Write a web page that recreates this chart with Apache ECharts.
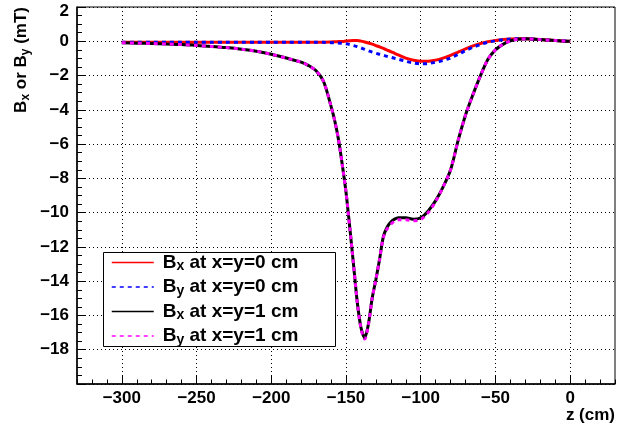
<!DOCTYPE html>
<html>
<head>
<meta charset="utf-8">
<script src="https://cdn.jsdelivr.net/npm/echarts@6/dist/echarts.min.js"></script>
<style>
  html, body { margin: 0; padding: 0; background: #fff; }
  #chart { width: 618px; height: 430px; }
</style>
</head>
<body>
<div id="chart"></div>
<script>
// ---- data ----
const zValues = [-300,-290,-280,-270,-260,-250,-240,-230,-220,-210,-200,-190,-180,-175,-170,-165,-160,
  -157.5,-155,-152.5,-150,-147.5,-145,-142.5,-140,-137.5,-135,-132.5,-130,-127.5,-125,-122.5,-120,-117.5,
  -115,-110,-105,-100,-95,-90,-85,-80,-75,-70,-65,-60,-55,-50,-45,-40,-35,-30,-25,-20,-15,-10,-5,0];

const bxAt0 = [-0.05,-0.05,-0.05,-0.05,-0.05,-0.05,-0.05,-0.05,-0.05,-0.05,-0.05,-0.05,-0.05,-0.05,-0.05,-0.05,-0.04,
  -0.03,-0.02,-0.01,0.01,0.03,0.04,0.04,0.01,-0.04,-0.10,-0.17,-0.25,-0.33,-0.42,-0.51,-0.60,-0.70,
  -0.80,-0.98,-1.10,-1.17,-1.16,-1.10,-0.98,-0.82,-0.63,-0.44,-0.27,-0.13,-0.02,0.05,0.10,0.13,0.14,0.14,0.12,0.10,0.07,0.05,0.02,0.0];

const byAt0 = [-0.05,-0.05,-0.05,-0.05,-0.05,-0.05,-0.05,-0.05,-0.05,-0.05,-0.05,-0.05,-0.05,-0.05,-0.05,-0.06,-0.08,
  -0.09,-0.10,-0.12,-0.15,-0.19,-0.25,-0.31,-0.39,-0.47,-0.55,-0.63,-0.70,-0.76,-0.82,-0.88,-0.93,-0.99,
  -1.05,-1.17,-1.27,-1.32,-1.30,-1.22,-1.12,-0.97,-0.77,-0.55,-0.35,-0.19,-0.06,0.03,0.09,0.13,0.15,0.15,0.13,0.10,0.07,0.05,0.02,0.0];

const bxAt1 = [-0.08,-0.11,-0.13,-0.16,-0.19,-0.24,-0.30,-0.37,-0.46,-0.58,-0.76,-0.98,-1.22,-1.42,-1.72,-2.35,-3.80,
  -4.65,-5.75,-7.20,-8.80,-10.85,-13.00,-15.20,-16.70,-17.30,-16.50,-15.00,-13.90,-12.70,-11.40,-10.85,-10.55,-10.38,
  -10.30,-10.30,-10.38,-10.30,-9.90,-9.30,-8.50,-7.50,-5.80,-4.30,-3.10,-2.00,-1.05,-0.50,-0.18,0.02,0.12,0.14,0.13,0.10,0.07,0.05,0.02,0.0];

const byAt1 = [-0.08,-0.11,-0.13,-0.16,-0.19,-0.24,-0.30,-0.37,-0.46,-0.58,-0.76,-0.98,-1.22,-1.42,-1.72,-2.35,-3.80,
  -4.65,-5.75,-7.20,-8.80,-10.85,-13.00,-15.20,-16.75,-17.38,-16.55,-15.00,-13.90,-12.70,-11.45,-10.95,-10.68,-10.50,
  -10.42,-10.42,-10.48,-10.40,-10.00,-9.35,-8.50,-7.50,-5.80,-4.30,-3.10,-2.00,-1.05,-0.50,-0.18,0.02,0.12,0.14,0.13,0.10,0.07,0.05,0.02,0.0];

const xTickValues = [-300,-250,-200,-150,-100,-50,0];
const seriesNames = ['Bx at x=y=0 cm','By at x=y=0 cm','Bx at x=y=1 cm','By at x=y=1 cm'];
const legendRich = {
  'Bx at x=y=0 cm': '{b0|B}{s|x}{b| at x=y=0 cm}',
  'By at x=y=0 cm': '{b0|B}{s|y}{b| at x=y=0 cm}',
  'Bx at x=y=1 cm': '{b0|B}{s|x}{b| at x=y=1 cm}',
  'By at x=y=1 cm': '{b0|B}{s|y}{b| at x=y=1 cm}'
};

// ---- chart ----
const FONT = '"Liberation Sans", Arial, Helvetica, sans-serif';
const minusFmt = v => (v < 0 ? '\u2212' + Math.abs(v) : String(v));
const pairs = arr => zValues.map((z, i) => [z, arr[i]]);
const dotted = { color: '#000', width: 1, type: [1, 3] };
const labelFont = { color: '#000', fontFamily: FONT, fontWeight: 'bold', fontSize: 17 };

const chart = echarts.init(document.getElementById('chart'), null, { renderer: 'canvas' });
chart.setOption({
  animation: false,
  backgroundColor: '#fff',
  grid: { left: 77, right: 3, top: 7, bottom: 46, show: true, borderColor: '#000', borderWidth: 1, backgroundColor: 'transparent' },
  xAxis: [
    {
      type: 'value', min: -330, max: 30, interval: 10,
      axisLine: { show: true, onZero: false, lineStyle: { color: '#000', width: 1.5 } },
      axisTick: { show: true, inside: true, length: 4.5, lineStyle: { color: '#000' } },
      axisLabel: { show: false },
      splitLine: { show: false }
    },
    {
      type: 'value', min: -330, max: 30, position: 'bottom',
      axisLine: { show: false, onZero: false },
      axisTick: { show: true, inside: true, length: 9, customValues: xTickValues, lineStyle: { color: '#000' } },
      axisLabel: Object.assign({ show: true, customValues: xTickValues, formatter: minusFmt, margin: 6 }, labelFont),
      splitLine: { show: true, lineStyle: dotted }
    }
  ],
  yAxis: {
    type: 'value', min: -20, max: 2, interval: 2,
    axisLine: { show: true, onZero: false, lineStyle: { color: '#000', width: 1.5 } },
    axisTick: { show: true, inside: true, length: 9, lineStyle: { color: '#000' } },
    minorTick: { show: true, splitNumber: 4, length: 5, lineStyle: { color: '#000' } },
    axisLabel: Object.assign({
      formatter: v => (v === 2 ? '{t|2}' : minusFmt(v)),
      showMinLabel: false, margin: 8,
      rich: { t: Object.assign({ padding: [9, 0, 0, 0] }, labelFont) }
    }, labelFont),
    splitLine: { show: true, lineStyle: dotted }
  },
  legend: {
    orient: 'vertical', left: 111, top: 253, padding: 0,
    itemWidth: 42, itemHeight: 20, itemGap: 4,
    data: seriesNames,
    formatter: name => legendRich[name],
    lineStyle: { width: 1.5 },
    itemStyle: { opacity: 0 },
    textStyle: {
      color: '#000',
      rich: {
        b0: { fontFamily: FONT, fontWeight: 'bold', fontSize: 19, lineHeight: 20, color: '#000', padding: [0, 0, 0, 4] },
        b: { fontFamily: FONT, fontWeight: 'bold', fontSize: 19, lineHeight: 20, color: '#000' },
        s: { fontFamily: FONT, fontWeight: 'bold', fontSize: 14, lineHeight: 22, color: '#000', verticalAlign: 'bottom' }
      }
    },
    z: 10
  },
  graphic: [
    { type: 'rect', z: 5, shape: { x: 103.5, y: 252.5, width: 232, height: 94 },
      style: { fill: '#fff', stroke: '#000', lineWidth: 1 } },
    { type: 'text', z: 10, x: 21, y: 7, rotation: Math.PI / 2,
      style: {
        text: '{b|B}{s|x}{b| or }{b|B}{s|y}{b| (mT)}',
        align: 'right', verticalAlign: 'middle',
        rich: {
          b: { fontFamily: FONT, fontWeight: 'bold', fontSize: 17, lineHeight: 20, fill: '#000' },
          s: { fontFamily: FONT, fontWeight: 'bold', fontSize: 12, lineHeight: 22, fill: '#000', verticalAlign: 'bottom' }
        }
      } },
    { type: 'text', z: 10, x: 615, y: 415,
      style: { text: 'z (cm)', align: 'right', verticalAlign: 'middle',
        font: 'bold 17px ' + FONT, fill: '#000' } }
  ],
  series: [
    { name: seriesNames[0], type: 'line', xAxisIndex: 0, data: pairs(bxAt0), smooth: 0.3, symbol: 'circle', showSymbol: false,
      lineStyle: { color: '#ff0000', width: 3 }, itemStyle: { color: '#ff0000' }, z: 2 },
    { name: seriesNames[1], type: 'line', xAxisIndex: 0, data: pairs(byAt0), smooth: 0.3, symbol: 'circle', showSymbol: false,
      lineStyle: { color: '#0000ff', width: 3, type: [4, 4] }, itemStyle: { color: '#0000ff' }, z: 2 },
    { name: seriesNames[2], type: 'line', xAxisIndex: 0, data: pairs(bxAt1), smooth: 0.3, symbol: 'circle', showSymbol: false,
      lineStyle: { color: '#000000', width: 3 }, itemStyle: { color: '#000000' }, z: 2 },
    { name: seriesNames[3], type: 'line', xAxisIndex: 0, data: pairs(byAt1), smooth: 0.3, symbol: 'circle', showSymbol: false,
      lineStyle: { color: '#ff00ff', width: 3, type: [4, 4] }, itemStyle: { color: '#ff00ff' }, z: 2 }
  ]
});
</script>
</body>
</html>
